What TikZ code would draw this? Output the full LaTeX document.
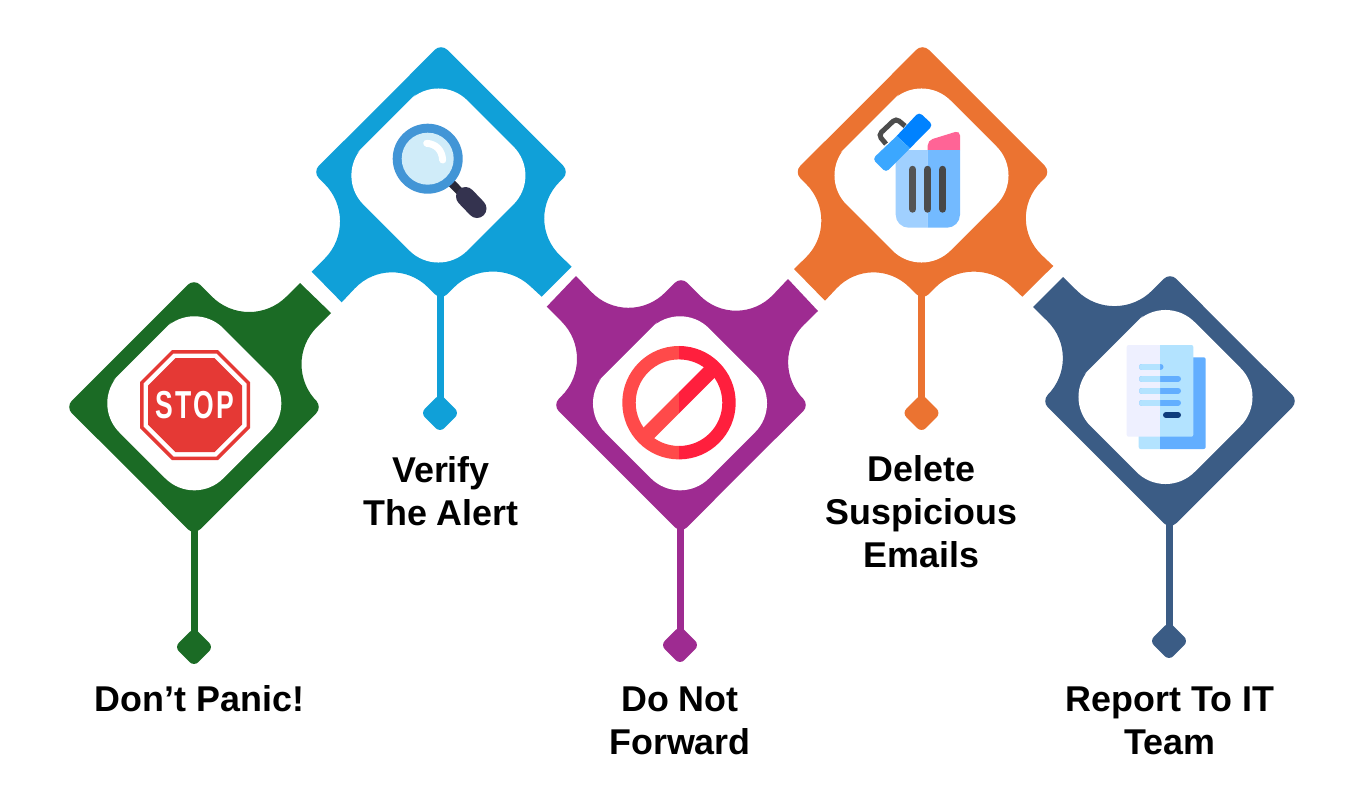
\documentclass[tikz,border=0pt]{standalone}
\usepackage{fontspec}
\setmainfont{Liberation Sans}
\usetikzlibrary{shapes.geometric}
\definecolor{stopcol}{HTML}{1B6B25}
\definecolor{verifycol}{HTML}{10A0D8}
\definecolor{forwardcol}{HTML}{9E2B91}
\definecolor{deletecol}{HTML}{EB7331}
\definecolor{reportcol}{HTML}{3B5C85}
\definecolor{signred}{HTML}{E53935}
\definecolor{lensring}{HTML}{4295D6}
\definecolor{lensglass}{HTML}{D0ECF9}
\definecolor{gripneck}{HTML}{2A2A3A}
\definecolor{gripdark}{HTML}{34334F}
\definecolor{banleft}{HTML}{FF4A4A}
\definecolor{banright}{HTML}{FF1F3D}
\definecolor{binpink}{HTML}{FF6496}
\definecolor{binleft}{HTML}{A0D0FF}
\definecolor{binright}{HTML}{73BAFF}
\definecolor{lidleft}{HTML}{3BA7FF}
\definecolor{lidright}{HTML}{0082FF}
\definecolor{pagepale}{HTML}{EEF0FF}
\definecolor{pagelight}{HTML}{B3E3FF}
\definecolor{pageblue}{HTML}{62AEFF}
\definecolor{pagedark}{HTML}{0F3C7C}
\tikzset{
	stemline/.style={line width=7pt},
	stemdot/.style={diamond, aspect=1, minimum size=39pt, inner sep=0pt, rounded corners=6pt},
	steptext/.style={align=center, font=\fontsize{35.85}{43}\selectfont\bfseries, text=black},
	panelbox/.style={fill=white, rounded corners=41pt},
	binbar/.style={line width=7.4pt, line cap=round},
	pageline/.style={line width=6pt, line cap=round}
}
\begin{document}
\begin{tikzpicture}[x=1pt,y=-1pt]
	\useasboundingbox (0,0) rectangle (1366,811);
	
	% stems
	\coordinate (stoptip) at (194,530);
	\coordinate (verifytip) at (440,295);
	\coordinate (forwardtip) at (680,528);
	\coordinate (deletetip) at (921.5,295);
	\coordinate (reporttip) at (1169,524);
	\node[stemdot, fill=stopcol] (stopdot) at (194,647) {};
	\node[stemdot, fill=verifycol] (verifydot) at (440,413) {};
	\node[stemdot, fill=forwardcol] (forwarddot) at (680,645) {};
	\node[stemdot, fill=deletecol] (deletedot) at (921.5,413) {};
	\node[stemdot, fill=reportcol] (reportdot) at (1169,641) {};
	\draw[stemline, stopcol] (stoptip) -- (stopdot.center);
	\draw[stemline, verifycol] (verifytip) -- (verifydot.center);
	\draw[stemline, forwardcol] (forwardtip) -- (forwarddot.center);
	\draw[stemline, deletecol] (deletetip) -- (deletedot.center);
	\draw[stemline, reportcol] (reporttip) -- (reportdot.center);
	
	% bodies
	\fill[stopcol, shift={(194,407)}] (-64,64) [rounded corners=9pt] -- (-128.5,0) -- (0,-128.5)
		[rounded corners=53pt] -- (55,-73) [sharp corners] -- (106,-124) -- (137,-94)
		[rounded corners=53pt] -- (85.5,-42.5) [rounded corners=9pt] -- (128.5,0) -- (0,128.5) -- cycle;
	\fill[verifycol, shift={(441,172)}] (-64,-64) [rounded corners=9pt] -- (0,-128.5) -- (128.5,0)
		[rounded corners=53pt] -- (81,47) [sharp corners] -- (130.7,94.7) -- (100.7,124.7)
		[rounded corners=53pt] -- (50,78) [rounded corners=9pt] -- (0,128.5)
		[rounded corners=53pt] -- (-50,78) [sharp corners] -- (-99.3,130.3) -- (-129.3,99.7)
		[rounded corners=53pt] -- (-79,49) [rounded corners=9pt] -- (-128.5,0) -- cycle;
	\fill[forwardcol, shift={(681,405)}] (64,64) [rounded corners=9pt] -- (0,128.5) -- (-128.5,0)
		[rounded corners=53pt] -- (-82,-46) [sharp corners] -- (-134.3,-98.3) -- (-105,-129)
		[rounded corners=53pt] -- (-53,-75) [rounded corners=9pt] -- (0,-128.5)
		[rounded corners=53pt] -- (56,-72) [sharp corners] -- (107,-126) -- (137,-94)
		[rounded corners=53pt] -- (85,-43) [rounded corners=9pt] -- (128.5,0) -- cycle;
	\fill[deletecol, shift={(922.5,172)}] (-64,-64) [rounded corners=9pt] -- (0,-128.5) -- (128.5,0)
		[rounded corners=53pt] -- (81,47) [sharp corners] -- (130.8,94) -- (99.8,124.7)
		[rounded corners=53pt] -- (50,78) [rounded corners=9pt] -- (0,128.5)
		[rounded corners=53pt] -- (-50,78) [sharp corners] -- (-97.5,128.7) -- (-128.5,97)
		[rounded corners=53pt] -- (-79,49) [rounded corners=9pt] -- (-128.5,0) -- cycle;
	\fill[reportcol, shift={(1170,401)}] (64,-64) [rounded corners=9pt] -- (128.5,0) -- (0,128.5) -- (-128.5,0)
		[rounded corners=53pt] -- (-85,-43) [sharp corners] -- (-137,-94) -- (-107,-124)
		[rounded corners=53pt] -- (-55,-73) [rounded corners=9pt] -- (0,-128.5) -- cycle;
	
	% white panels
	\path[panelbox, shift={(194.3,403.3)}] (-52,-52) -- (0,-104) -- (104,0) -- (0,104) -- (-104,0) -- cycle;
	\path[panelbox, shift={(438.4,175.5)}] (-52,-52) -- (0,-104) -- (104,0) -- (0,104) -- (-104,0) -- cycle;
	\path[panelbox, shift={(680,403.3)}] (-52,-52) -- (0,-104) -- (104,0) -- (0,104) -- (-104,0) -- cycle;
	\path[panelbox, shift={(921.5,175.5)}] (-52,-52) -- (0,-104) -- (104,0) -- (0,104) -- (-104,0) -- cycle;
	\path[panelbox, shift={(1165.5,397)}] (-52,-52) -- (0,-104) -- (104,0) -- (0,104) -- (-104,0) -- cycle;
	
	% stop sign
	\fill[signred, shift={(195,405)}]
		(-23,-55) -- (23,-55) -- (55,-23) -- (55,23) -- (23,55) -- (-23,55) -- (-55,23) -- (-55,-23) -- cycle;
	\fill[white, shift={(195,405)}]
		(-21.3,-51.5) -- (21.3,-51.5) -- (51.5,-21.3) -- (51.5,21.3) -- (21.3,51.5) -- (-21.3,51.5) -- (-51.5,21.3) -- (-51.5,-21.3) -- cycle;
	\fill[signred, shift={(195,405)}]
		(-19.5,-47) -- (19.5,-47) -- (47,-19.5) -- (47,19.5) -- (19.5,47) -- (-19.5,47) -- (-47,19.5) -- (-47,-19.5) -- cycle;
	\node[text=white, font=\fontsize{39}{39}\selectfont\bfseries\addfontfeature{LetterSpace=9}, xscale=0.68, inner sep=0pt] (stoplabel) at (195,405) {STOP};
	
	% magnifier
	\draw[line width=8pt, gripneck] (451.7,183.3) -- (460,191.7);
	\draw[line width=19pt, line cap=round, gripdark] (465.5,196.5) -- (477,208.5);
	\fill[lensring] (427.7,158.7) circle (35);
	\fill[lensglass] (427.7,158.7) circle (26);
	\draw[white, line width=7pt, line cap=round] (426.7,143.3) .. controls (436,144) and (442,150) .. (442.7,160);
	
	% forbidden sign
	\begin{scope}
		\clip (615,340) rectangle (679,465);
		\draw[line width=13.4pt, banleft] (679,402.7) circle (50);
		\draw[line width=15pt, banleft] (644,437.7) -- (714,367.7);
	\end{scope}
	\begin{scope}
		\clip (679,340) rectangle (745,465);
		\draw[line width=13.4pt, banright] (679,402.7) circle (50);
		\draw[line width=15pt, banright] (644,437.7) -- (714,367.7);
	\end{scope}
	
	% bin
	\fill[binpink, rounded corners=5pt] (927.7,155) -- (927.7,140.5) -- (960,130.5) -- (960,155) -- cycle;
	\fill[binleft] (927.7,150) -- (895.7,150) [rounded corners=13pt] -- (895.7,227.7) [sharp corners] -- (927.7,227.7) -- cycle;
	\fill[binright] (927.7,150) -- (960,150) [rounded corners=13pt] -- (960,227.7) [sharp corners] -- (927.7,227.7) -- cycle;
	\draw[binbar, black!67] (912.7,169.5) -- (912.7,209);
	\draw[binbar, black!70] (927.7,169.5) -- (927.7,209);
	\draw[binbar, black!72] (942.7,169.5) -- (942.7,209);
	\draw[line width=5pt, rounded corners=4pt, black!70] (886,144) -- (878.5,135) -- (896,118.5) -- (905,126);
	\fill[lidright] (896.7,136) [rounded corners=4pt] -- (919,112) -- (933,125) [sharp corners] -- (910,148.3) -- cycle;
	\fill[lidleft] (910,148.3) [rounded corners=4pt] -- (886,172.5) -- (872.5,159) [sharp corners] -- (896.7,136) -- cycle;
	
	% document
	\fill[pagelight] (1160,357.3) -- (1138.7,357.3) [rounded corners=2pt] -- (1138.7,449) [sharp corners] -- (1160,449) -- cycle;
	\fill[pageblue] (1160,449) [rounded corners=2pt] -- (1205.7,449) -- (1205.7,357.3) [sharp corners] -- (1160,357.3) -- cycle;
	\fill[pagepale] (1160,345) [rounded corners=2pt] -- (1126.7,345) -- (1126.7,436.7) [sharp corners] -- (1160,436.7) -- cycle;
	\fill[pagelight] (1160,345) [rounded corners=2pt] -- (1193.3,345) -- (1193.3,436.7) [sharp corners] -- (1160,436.7) -- cycle;
	\draw[pageline, pageblue] (1142,366.7) -- (1160.5,366.7);
	\draw[pageline, pageblue] (1142,378.7) -- (1178,378.7);
	\draw[pageline, pageblue] (1142,390.7) -- (1178,390.7);
	\draw[pageline, pageblue] (1142,402.7) -- (1178,402.7);
	\begin{scope}
		\clip (1126.7,360) rectangle (1160,410);
		\draw[pageline, pagelight] (1142,366.7) -- (1160.5,366.7);
		\draw[pageline, pagelight] (1142,378.7) -- (1178,378.7);
		\draw[pageline, pagelight] (1142,390.7) -- (1178,390.7);
		\draw[pageline, pagelight] (1142,402.7) -- (1178,402.7);
	\end{scope}
	\draw[pageline, pagedark] (1166,415) -- (1178,415);
	
	% labels
	\node[steptext] (stoptext) at (199.5,699) {Don’t Panic!};
	\node[steptext] (verifytext) at (441,491) {Verify\\The Alert};
	\node[steptext] (forwardtext) at (680,721) {Do Not\\Forward};
	\node[steptext] (deletetext) at (921.5,512) {Delete\\Suspicious\\Emails};
	\node[steptext] (reporttext) at (1170,721) {Report To IT\\Team};
\end{tikzpicture}
\end{document}
